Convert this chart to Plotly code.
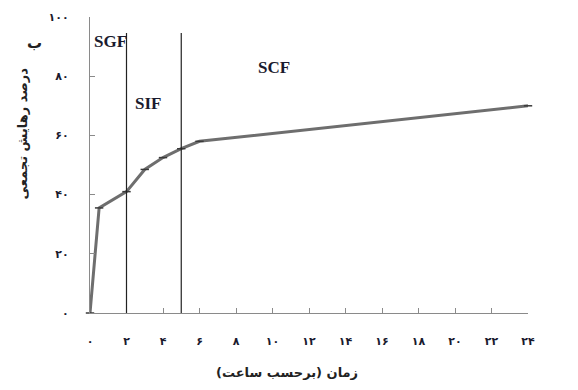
import plotly.graph_objects as go

# Data
hours = [0, 0.5, 2, 3, 4, 5, 6, 24]
release = [0, 35.5, 41, 48.5, 52.5, 55.5, 58, 70]

x_tickvals = [0, 2, 4, 6, 8, 10, 12, 14, 16, 18, 20, 22, 24]
x_ticktext = ["۰", "۲", "۴", "۶", "۸", "۱۰", "۱۲", "۱۴", "۱۶", "۱۸", "۲۰", "۲۲", "۲۴"]
y_tickvals = [0, 20, 40, 60, 80, 100]
y_ticktext = ["۰", "۲۰", "۴۰", "۶۰", "۸۰", "۱۰۰"]

phase_bounds = [2, 5]
phase_top = 94.6
phase_labels = ["SGF", "SIF", "SCF"]
phase_label_x = [1.1, 3.2, 10.1]
phase_label_y = [91.6, 70.9, 83.1]

x_title = "زمان (برحسب ساعت)"
y_title = "درصد رهایش تجمعی"
panel_label = "ب"

fig = go.Figure()
fig.add_trace(go.Scatter(
    x=hours, y=release, mode="lines+markers",
    line=dict(color="#6e6e6e", width=3),
    marker=dict(symbol="line-ew", size=6, line=dict(color="#3a3a3a", width=1.5)),
    showlegend=False, cliponaxis=False,
))

for xb in phase_bounds:
    fig.add_shape(type="line", x0=xb, x1=xb, y0=0, y1=phase_top,
                  xref="x", yref="y", line=dict(color="#222222", width=1.2))

for t, xx, yy in zip(phase_labels, phase_label_x, phase_label_y):
    fig.add_annotation(x=xx, y=yy, xref="x", yref="y", text="<b>%s</b>" % t,
                       showarrow=False,
                       font=dict(family="Liberation Serif", size=17, color="#1a1a2e"))

fig.add_annotation(x=0.45, y=-0.233, xref="paper", yref="paper", text="<b>%s</b>" % x_title,
                   showarrow=False, font=dict(family="DejaVu Sans", size=13, color="#222"))
fig.add_annotation(x=-0.176, y=0.608, xref="paper", yref="paper", text="<b>%s</b>" % y_title,
                   textangle=-90, showarrow=False,
                   font=dict(family="DejaVu Sans", size=13, color="#222"))
fig.add_annotation(x=-0.148, y=0.949, xref="paper", yref="paper", text="<b>%s</b>" % panel_label,
                   showarrow=False, font=dict(family="DejaVu Sans", size=15, color="#222"))

axis_common = dict(showgrid=False, zeroline=False, showline=True, linecolor="#8a8a8a",
                   linewidth=1.2, ticks="inside", ticklen=5, tickcolor="#8a8a8a",
                   tickfont=dict(family="DejaVu Sans", size=11, color="#1a1a2e"))
fig.update_xaxes(range=[0, 24], tickvals=x_tickvals,
                 ticktext=["<b>%s</b>" % t for t in x_ticktext],
                 ticklabelstandoff=18, **axis_common)
fig.update_yaxes(range=[0, 100], tickvals=y_tickvals,
                 ticktext=["<b>%s</b>" % t for t in y_ticktext],
                 ticklabelstandoff=18, **axis_common)

fig.update_layout(
    width=578, height=390,
    margin=dict(l=90, r=50, t=17, b=77),
    plot_bgcolor="white", paper_bgcolor="white",
)
fig.write_html("out.html")
